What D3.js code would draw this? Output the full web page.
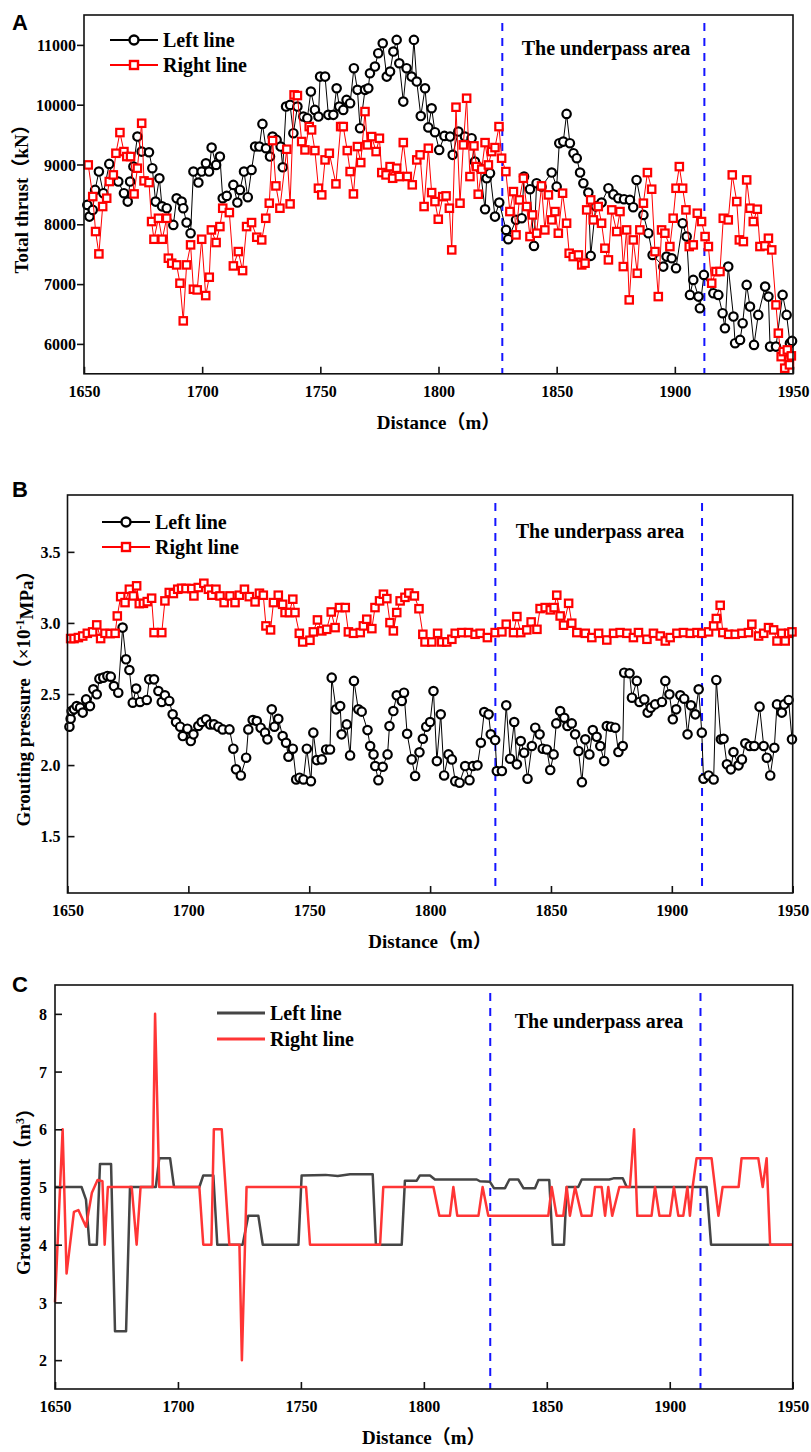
<!DOCTYPE html>
<html><head><meta charset="utf-8">
<script src="https://cdn.jsdelivr.net/npm/d3@7"></script>
<style>
body{margin:0;background:#fff}
svg text{font-family:"Liberation Serif","Times New Roman","Noto Sans CJK SC",serif;font-weight:bold;fill:#000}
</style>
</head><body>
<svg id="chart" width="811" height="1452"></svg>
<script>
// ---------------- data ----------------
const distanceTicks = [1650, 1700, 1750, 1800, 1850, 1900, 1950];
const underpassBounds = [1827, 1912.5];
const thrustTicks = [6000, 7000, 8000, 9000, 10000, 11000];
const pressureTicks = [1.5, 2.0, 2.5, 3.0, 3.5];
const groutTicks = [2, 3, 4, 5, 6, 7, 8];
const seriesNames = ["Left line", "Right line"];
const panelLetters = ["A", "B", "C"];
const underpassLabel = "The underpass area";

// Total thrust (kN) — [distance m, value]
const thrustLeft = [[1651.4,8324],[1652.3,8129],[1653.7,8241],[1654.7,8575],[1656.3,8882],[1658.2,8520],[1660.7,9010],[1662.4,8742],[1664.5,8715],[1666.9,8520],[1668.5,8380],[1669.5,8715],[1670.9,8965],[1672.6,9467],[1674.4,9216],[1677.5,9205],[1678.9,8938],[1680.3,8380],[1681.9,8770],[1683,8300],[1685,8269],[1687.8,7990],[1689.2,8436],[1691.3,8380],[1692,8269],[1693.4,8029],[1695.1,7851],[1696.3,8882],[1698.4,8698],[1699.8,8882],[1701.6,9021],[1702.9,8882],[1704,9283],[1705.9,8993],[1707.5,9133],[1708.7,8436],[1710.4,8475],[1713.2,8659],[1714.9,8364],[1716,8575],[1717.7,8882],[1719.3,8453],[1720.9,8910],[1722.4,9300],[1724.2,9300],[1725.5,9679],[1727,9272],[1728.7,9133],[1729.8,9467],[1731.5,9411],[1733.2,9300],[1734.1,8954],[1735.5,9969],[1737.2,9997],[1738.6,9523],[1740.3,9969],[1742.8,9802],[1744.5,9774],[1746,10220],[1747.7,9913],[1749.2,9802],[1749.9,10470],[1752,10470],[1753.4,9830],[1755.5,9830],[1756.9,10275],[1758,9969],[1759.7,9913],[1761.1,10080],[1762.6,10025],[1764.2,10610],[1765.7,10248],[1766.8,9607],[1768.9,10248],[1770.3,10275],[1771,10526],[1773.1,10638],[1774.5,10861],[1776.4,11028],[1778.1,10470],[1779.5,10554],[1780.9,10889],[1782.3,11084],[1783.4,10693],[1785.1,10052],[1786.5,10610],[1788.6,10470],[1789.6,11084],[1790.8,10387],[1792.5,9810],[1794.3,10275],[1795.7,9620],[1797.1,9941],[1798.5,9540],[1800.3,9244],[1802.5,9478],[1804.9,9467],[1806,9161],[1808.4,9551],[1811.2,9467],[1814,9440],[1815.4,9049],[1817.6,8938],[1819.7,8252],[1820.4,8770],[1821.8,8855],[1823.9,8129],[1825.7,8363],[1828.6,7906],[1829.5,7751],[1832.8,8074],[1835.2,8102],[1836.2,8798],[1838.7,8587],[1840.4,7639],[1841.5,8687],[1843.6,8630],[1847.9,8865],[1850,8630],[1851.1,9356],[1852.8,9383],[1854.2,9846],[1855.6,9356],[1857.1,9189],[1858.5,9105],[1859.9,8865],[1861.3,8687],[1863.4,8531],[1864.4,7472],[1866.5,8300],[1869,8363],[1871.9,8604],[1874,8500],[1876.1,8436],[1878.5,8420],[1881,8408],[1882.4,8286],[1883.8,8742],[1886.7,8157],[1888.8,7851],[1890.6,7488],[1895.1,7293],[1896.5,7460],[1898.7,7432],[1900.5,7266],[1903.3,8018],[1905,7795],[1906.4,6819],[1907.8,7070],[1910,6791],[1910.6,6597],[1912.3,7154],[1916.3,6848],[1918.4,6819],[1920.2,6513],[1921.2,6262],[1922.6,7293],[1924.8,6457],[1925.5,6012],[1927.6,6067],[1928.7,6346],[1930.4,6987],[1931.8,6624],[1933.5,5983],[1935.3,6485],[1938.2,6958],[1939.6,6791],[1940.3,5955],[1942.8,5955],[1945.6,6819],[1947.3,6485],[1948.7,6012],[1949.6,6050]];
const thrustRight = [[1651.8,8993],[1653.7,8464],[1654.9,7879],[1656.3,7505],[1657.9,8297],[1659.6,8436],[1660.7,8715],[1662.4,8826],[1663.5,9188],[1665.2,9534],[1666.9,9216],[1668.1,9133],[1669.7,9133],[1671.2,8508],[1672.6,8938],[1674.4,9690],[1675.4,8726],[1677.5,8698],[1678.6,8046],[1679.6,7750],[1681.5,8101],[1683.1,7750],[1685,8101],[1685.7,7433],[1687.1,7349],[1689.2,7321],[1690.6,7015],[1692,6385],[1693.4,7321],[1695.1,7656],[1696.3,6914],[1697.9,6903],[1699.8,7750],[1701.5,6808],[1703,7115],[1703.9,7906],[1705.9,7695],[1707.5,7962],[1708.7,8269],[1711.5,8196],[1713.2,7304],[1715.3,7544],[1717.1,7226],[1718.8,7962],[1720.9,8029],[1723.1,7784],[1725.2,7739],[1726.9,8101],[1728.4,8353],[1729.8,9400],[1731.2,8642],[1732.9,8269],[1735.8,9255],[1737.2,8341],[1738.9,10164],[1740.3,10153],[1742.1,9384],[1743.5,9244],[1745.3,9634],[1746.3,9579],[1747.7,9233],[1749.2,8603],[1750.6,8492],[1752,9077],[1753.8,9188],[1756.6,8676],[1758.6,9634],[1759.7,9634],[1761.4,9233],[1762.6,8882],[1764,8508],[1765.7,9300],[1767.1,9032],[1768.9,9885],[1769.9,9328],[1771.7,9467],[1773.6,9216],[1775,9439],[1776,8865],[1777.8,8826],[1779.5,8965],[1780.6,8770],[1782.3,8938],[1783.4,8798],[1785.1,9367],[1786.8,8800],[1788.9,8660],[1790.8,9077],[1792.2,9161],[1793.9,8297],[1795.7,9272],[1797.1,8530],[1798.5,8380],[1799.9,8085],[1801.8,8463],[1803.2,8475],[1804.6,8269],[1805.6,7572],[1807.4,9958],[1809.1,8353],[1810.5,9328],[1811.9,10108],[1813.3,8798],[1815,9311],[1816.1,8965],[1816.8,8503],[1818.3,8921],[1819.7,9366],[1821.1,8993],[1822.5,9216],[1823.9,9283],[1825.6,9634],[1826.7,9105],[1828.5,8882],[1830.2,8213],[1831.7,8547],[1832.8,7823],[1834.2,8408],[1835.9,8770],[1837.3,8297],[1838.7,7795],[1839.8,8157],[1841.5,7851],[1843.6,8642],[1845,7906],[1846.5,8492],[1847.9,8074],[1849.3,8213],[1850.7,7851],[1852.5,8520],[1854.2,8018],[1855.3,7516],[1857,7460],[1859.2,7488],[1860.6,7321],[1862,7349],[1862.7,8241],[1864.4,8408],[1865.5,8074],[1867.6,8297],[1869,8018],[1870.4,7600],[1871.9,7405],[1873.3,8241],[1875.4,7879],[1876.8,8213],[1878.2,7293],[1879.6,7906],[1880.7,6736],[1882.4,7739],[1884.1,7181],[1885.2,7906],[1886.7,8353],[1888.4,8865],[1890.2,8587],[1891.6,7544],[1893,6791],[1894.4,7906],[1895.8,7851],[1897.9,7628],[1899.3,8102],[1900.5,8603],[1901.9,8965],[1903.3,8603],[1904.7,8241],[1906.1,7628],[1907.8,7656],[1909.5,8185],[1911.3,8046],[1912.8,7795],[1914.2,7628],[1915.6,7015],[1917.4,7210],[1919.1,7210],[1920.5,8101],[1922.6,8074],[1924.3,8826],[1926.2,8380],[1927.3,7739],[1929,7711],[1930.4,8742],[1931.8,8269],[1933.2,8046],[1934.9,8252],[1936,7628],[1938.1,7639],[1939.6,7767],[1941,7572],[1942.8,6652],[1943.8,6179],[1945,5787],[1945.9,5871],[1946.5,5594],[1947.6,5900],[1948.5,5650],[1949.3,5800]];

// Grouting pressure (x10^-1 MPa)
const pressureLeft = [[1650.8,2.27],[1651.3,2.326],[1651.7,2.38],[1652.7,2.392],[1653.8,2.415],[1655.2,2.404],[1656.3,2.369],[1657.7,2.462],[1659.3,2.415],[1660.7,2.533],[1662.1,2.498],[1663.2,2.608],[1664.8,2.615],[1666.5,2.627],[1667.9,2.622],[1669.2,2.556],[1671,2.509],[1672.8,2.967],[1674.2,2.744],[1675.6,2.669],[1677,2.439],[1678.4,2.538],[1680,2.444],[1682.8,2.458],[1683.8,2.603],[1685.8,2.603],[1687.6,2.521],[1689,2.444],[1690.3,2.491],[1692.1,2.451],[1693.5,2.357],[1694.9,2.303],[1696.6,2.27],[1697.7,2.204],[1699.6,2.256],[1701,2.169],[1702.1,2.216],[1704.1,2.275],[1705.5,2.303],[1707.3,2.322],[1709,2.286],[1710.6,2.286],[1712.4,2.27],[1714.2,2.251],[1717,2.251],[1718.6,2.115],[1719.7,1.97],[1721.7,1.927],[1723.9,2.052],[1724.8,2.251],[1726.6,2.317],[1728.3,2.31],[1729.9,2.263],[1731.7,2.228],[1732.7,2.181],[1734.5,2.392],[1735.6,2.27],[1737.2,2.326],[1739,2.204],[1740.4,2.157],[1741.4,2.059],[1743.2,2.115],[1744.6,1.899],[1746,1.911],[1747.6,1.899],[1749,2.115],[1750.7,1.887],[1751.7,2.228],[1753.1,2.035],[1755.2,2.04],[1757,2.11],[1758.6,2.11],[1759.3,2.615],[1761.1,2.392],[1762.8,2.415],[1763.4,2.216],[1765.5,2.286],[1766.9,2.068],[1768.5,2.592],[1770.3,2.392],[1771.7,2.376],[1774.1,2.246],[1775.2,2.134],[1776.6,2.075],[1777.3,1.993],[1778.6,1.894],[1780.4,1.988],[1782.4,2.075],[1783.2,2.275],[1784.8,2.38],[1786.2,2.491],[1788.3,2.451],[1789.2,2.509],[1790.5,2.22],[1792.4,2.04],[1793.8,1.923],[1795.6,2.09],[1797,2.185],[1798.4,2.27],[1800,2.303],[1801.4,2.521],[1802.8,2.028],[1804.4,2.357],[1805.8,1.927],[1807.6,2.075],[1809,2.04],[1810.4,1.887],[1812.2,1.876],[1814.5,1.993],[1816.3,1.894],[1817.7,1.993],[1819.6,1.998],[1821,2.157],[1822.4,2.373],[1824.2,2.357],[1825.1,2.216],[1826.9,2.176],[1827.6,1.958],[1829.7,1.958],[1831.5,2.42],[1833.1,2.045],[1834.8,2.303],[1835.9,2.005],[1837.5,2.169],[1838.9,2.087],[1840.3,1.904],[1842.1,2.134],[1843.5,2.263],[1845.3,2.216],[1846.6,2.115],[1848.3,2.11],[1849.7,1.965],[1851.1,2.075],[1852.2,2.293],[1853.8,2.38],[1855.5,2.333],[1856.8,2.275],[1858.6,2.293],[1860,2.216],[1861.4,2.099],[1862.8,1.88],[1864.2,2.181],[1865.9,2.075],[1867.3,2.246],[1868.9,2.199],[1870.4,2.134],[1872,2.028],[1873.1,2.275],[1874.8,2.27],[1876.6,2.263],[1877.9,2.092],[1879.7,2.134],[1880.3,2.65],[1882.5,2.646],[1883.5,2.474],[1885.5,2.592],[1886.6,2.444],[1888.6,2.462],[1890,2.369],[1891.3,2.404],[1893.1,2.427],[1895.9,2.444],[1897.3,2.592],[1899,2.498],[1900.4,2.322],[1901.8,2.392],[1903.5,2.491],[1905.1,2.467],[1906.5,2.216],[1907.9,2.42],[1909.7,2.357],[1911.1,2.533],[1912.4,2.228],[1913.1,1.904],[1915.2,1.927],[1917.3,1.899],[1918.4,2.599],[1920.3,2.181],[1921.4,2.185],[1922.8,2.005],[1924.4,1.97],[1925.5,2.092],[1927.6,1.998],[1929,2.04],[1930.4,2.153],[1932.2,2.134],[1934.1,2.134],[1936.3,2.411],[1938,2.134],[1939.3,2.052],[1940.7,1.927],[1942.4,2.122],[1943.5,2.427],[1945.5,2.369],[1946.5,2.427],[1948.3,2.458],[1949.7,2.181]];
const pressureRight = [[1651.3,2.89],[1652.7,2.89],[1654.5,2.897],[1656.3,2.908],[1658.2,2.927],[1660.4,2.937],[1662.1,2.986],[1663.7,2.89],[1665.5,2.927],[1667.6,2.925],[1669.7,2.927],[1670.6,3.049],[1672,3.185],[1673.8,3.143],[1675.6,3.237],[1677.2,3.19],[1678.6,3.261],[1679.7,3.136],[1681.4,3.138],[1683,3.15],[1684.8,3.174],[1685.8,2.932],[1689,2.932],[1690.3,3.155],[1692.1,3.214],[1693.8,3.207],[1695.6,3.237],[1697.2,3.244],[1699,3.242],[1701.4,3.242],[1702.3,3.19],[1704.1,3.249],[1706.4,3.279],[1708.3,3.237],[1709.7,3.195],[1711.4,3.237],[1713.1,3.19],[1714.8,3.143],[1717.2,3.19],[1719.3,3.143],[1721.1,3.195],[1723.2,3.237],[1725.2,3.185],[1727.6,3.148],[1729.4,3.209],[1731,3.195],[1732.1,2.979],[1734,2.951],[1735.2,3.143],[1737.2,3.195],[1739,3.131],[1740,3.073],[1741.8,3.073],[1743.2,3.167],[1744.1,3.073],[1745.9,2.927],[1747.3,2.866],[1750.3,2.878],[1751.7,2.937],[1753.4,3.021],[1755.2,2.944],[1757.2,2.955],[1759.1,3.077],[1760.7,2.967],[1762.5,3.108],[1764.9,3.108],[1766.2,2.937],[1768.3,2.927],[1771.1,2.932],[1772.4,2.979],[1773.8,3.026],[1775.9,2.96],[1777.2,3.108],[1779.1,3.155],[1780.7,3.202],[1782.1,3.171],[1783.4,3.002],[1784.8,2.944],[1786.2,3.073],[1787.6,3.155],[1789.6,3.18],[1791.2,3.21],[1793.5,3.19],[1795.4,3.1],[1797,2.92],[1797.9,2.866],[1800.7,2.866],[1803.1,2.927],[1804.8,2.866],[1806.9,2.866],[1809,2.885],[1810.4,2.927],[1813.1,2.932],[1815.9,2.932],[1818.6,2.92],[1820.7,2.927],[1823.7,2.897],[1826.9,2.932],[1829.7,2.937],[1831.5,2.991],[1834.5,2.932],[1835.9,3.045],[1837.5,2.932],[1840,2.951],[1841.8,3.007],[1844.2,2.955],[1845.5,3.101],[1847.6,3.108],[1849.7,3.092],[1851.3,3.108],[1852.4,3.195],[1853.8,3.049],[1855.2,2.984],[1857.3,3.138],[1858.6,2.998],[1860.7,2.932],[1864.2,2.927],[1866.9,2.897],[1869.7,2.927],[1873.1,2.88],[1875.9,2.927],[1878.6,2.932],[1881.4,2.927],[1884.1,2.897],[1886.2,2.932],[1889.7,2.885],[1892.4,2.927],[1895.2,2.908],[1897.3,2.873],[1899.3,2.897],[1902.1,2.927],[1904.8,2.932],[1907.6,2.927],[1910.4,2.932],[1912.4,2.927],[1915.2,2.937],[1917.3,2.979],[1918.4,3.031],[1920,3.124],[1921.1,2.932],[1923.5,2.92],[1926.2,2.92],[1929,2.927],[1931.7,2.932],[1933.1,2.991],[1935.9,2.908],[1938,2.927],[1940,2.967],[1942.1,2.951],[1943.5,2.873],[1945.5,2.927],[1946.9,2.873],[1948.3,2.927],[1949.7,2.937]];

// Grout amount (m3)
const groutLeft = [[1650,5],[1660.8,5],[1662.6,4.78],[1664,4],[1667,4],[1668.3,5.4],[1672.8,5.4],[1674.4,2.5],[1678.9,2.5],[1680.5,5],[1691,5],[1692.4,5.5],[1696.8,5.5],[1698.4,5],[1708.7,5],[1710.3,5.2],[1714.4,5.2],[1716,4],[1726.3,4],[1728.6,4.5],[1732.7,4.5],[1734.5,4],[1749,4],[1750.3,5.2],[1760,5.21],[1765,5.19],[1770,5.22],[1779.2,5.22],[1780.5,4],[1791,4],[1792.3,5.11],[1797.1,5.11],[1798.4,5.2],[1802.5,5.2],[1804.5,5.13],[1821.5,5.13],[1822.8,5.1],[1826.9,5.09],[1828.5,4.98],[1833,4.98],[1834.8,5.13],[1838.4,5.13],[1840.5,4.98],[1845.2,4.98],[1846.6,5.12],[1851,5.12],[1852.4,4],[1857,4],[1858.1,5],[1862.8,5],[1864.2,5.13],[1875.4,5.13],[1877.1,5.15],[1880.9,5.15],[1882.5,5],[1915,5],[1916.8,4],[1950,4]];
const groutRight = [[1650,3],[1653.1,6],[1654.7,3.5],[1657.7,4.57],[1659.5,4.6],[1662.6,4.31],[1665,4.9],[1667.3,5.12],[1669.3,5.1],[1670.2,4],[1671.5,5],[1681.2,5],[1683.2,4],[1684.8,5],[1689.7,5],[1690.7,8],[1692.4,5],[1708.7,5],[1710.3,4],[1713.6,4],[1714.6,6],[1717.8,6],[1720.9,4],[1725,4],[1726,2],[1727.9,5],[1752.1,5],[1753.7,4],[1782.2,4],[1783.5,5],[1803.9,5],[1806.3,4.5],[1810.6,4.5],[1812,5],[1813.6,4.5],[1822.2,4.5],[1823.9,5],[1826.2,4.5],[1850.6,4.5],[1852,5],[1854,4.5],[1856.7,4.5],[1858.1,5],[1859.4,4.5],[1861.5,5],[1864.2,4.5],[1868.2,4.5],[1869.6,5],[1872.3,5],[1873.7,4.5],[1875,5],[1876.6,4.5],[1879.5,5],[1883.8,5],[1885.5,6],[1886.8,4.5],[1892.6,4.5],[1894,5],[1895.8,4.5],[1900.1,4.5],[1901.7,5],[1903.5,4.5],[1905.5,4.5],[1907.2,5],[1908.2,4.5],[1909.3,5],[1910.9,5.5],[1917,5.5],[1919.8,4.5],[1921.5,5],[1928,5],[1929.2,5.5],[1936,5.5],[1937.8,5],[1939.4,5.5],[1940.8,4],[1950,4]];

// ---------------- drawing ----------------
const svg = d3.select("#chart");
const BLUE = "#1414ff";

function panel(cfg) {
  const x = d3.scaleLinear().domain([1650, 1950]).range([cfg.left, cfg.right]);
  const y = d3.scaleLinear().domain(cfg.yDomain).range([cfg.bottom, cfg.top]);
  const g = svg.append("g");

  underpassBounds.forEach(d => {
    g.append("line").attr("x1", x(d)).attr("x2", x(d))
      .attr("y1", cfg.top + 8).attr("y2", cfg.bottom)
      .attr("stroke", BLUE).attr("stroke-width", 2).attr("stroke-dasharray", "8,7");
  });

  cfg.series.forEach(s => {
    const line = d3.line().x(d => x(d[0])).y(d => y(d[1]));
    g.append("path").datum(s.data).attr("d", line)
      .attr("fill", "none").attr("stroke", s.color).attr("stroke-width", s.lw)
      .attr("stroke-linejoin", "round");
    if (s.marker === "circle") {
      g.selectAll(null).data(s.data).enter().append("circle")
        .attr("cx", d => x(d[0])).attr("cy", d => y(d[1])).attr("r", 4.2)
        .attr("fill", "#fff").attr("stroke", s.color).attr("stroke-width", 2.2);
    } else if (s.marker === "square") {
      g.selectAll(null).data(s.data).enter().append("rect")
        .attr("x", d => x(d[0]) - 3.7).attr("y", d => y(d[1]) - 3.7)
        .attr("width", 7.4).attr("height", 7.4)
        .attr("fill", "#fff").attr("stroke", s.color).attr("stroke-width", 2.2);
    }
  });

  g.append("rect").attr("x", cfg.left).attr("y", cfg.top)
    .attr("width", cfg.right - cfg.left).attr("height", cfg.bottom - cfg.top)
    .attr("fill", "none").attr("stroke", "#111").attr("stroke-width", 1.6);

  const xa = g.append("g").attr("transform", `translate(0,${cfg.bottom})`)
    .call(d3.axisBottom(x).tickValues(distanceTicks).tickSizeInner(-7).tickSizeOuter(0).tickPadding(0).tickFormat(d3.format("d")));
  xa.select(".domain").remove();
  xa.selectAll("line").attr("stroke", "#111").attr("stroke-width", 1.6);
  xa.selectAll("text").attr("y", 23).attr("dy", null).attr("font-size", 16);

  const ya = g.append("g").attr("transform", `translate(${cfg.left},0)`)
    .call(d3.axisLeft(y).tickValues(cfg.yTicks).tickSizeInner(cfg.yTickOut ? 7 : -7).tickSizeOuter(0).tickPadding(0).tickFormat(cfg.yFormat));
  ya.select(".domain").remove();
  ya.selectAll("line").attr("stroke", "#111").attr("stroke-width", 1.6);
  ya.selectAll("text").attr("x", -cfg.yLabelGap).attr("dy", "0.35em").attr("font-size", 16);

  g.append("text").attr("x", (cfg.left + cfg.right) / 2).attr("y", cfg.bottom + 55)
    .attr("text-anchor", "middle").attr("font-size", 19).text("Distance（m）");
  const yt = g.append("text")
    .attr("transform", `translate(${cfg.yTitleX},${(cfg.top + cfg.bottom) / 2}) rotate(-90)`)
    .attr("text-anchor", "middle").attr("dy", "0.35em").attr("font-size", 19);
  cfg.yTitle(yt);

  svg.append("text").attr("x", 12).attr("y", cfg.letterY)
    .style("font-family", "'Liberation Sans', Arial, sans-serif").attr("font-size", 22)
    .text(cfg.letter);

  g.append("text").attr("x", cfg.labelX).attr("y", cfg.labelY).attr("dy", "0.35em")
    .attr("text-anchor", "middle").attr("font-size", 20).text(underpassLabel);

  cfg.series.forEach((s, i) => {
    const ly = cfg.legY + i * cfg.legDy;
    g.append("line").attr("x1", cfg.legX).attr("x2", cfg.legX + 48)
      .attr("y1", ly).attr("y2", ly).attr("stroke", s.color).attr("stroke-width", s.marker ? 2 : 3);
    if (s.marker === "circle") {
      g.append("circle").attr("cx", cfg.legX + 24).attr("cy", ly).attr("r", 4.5)
        .attr("fill", "#fff").attr("stroke", s.color).attr("stroke-width", 2.4);
    } else if (s.marker === "square") {
      g.append("rect").attr("x", cfg.legX + 24 - 4).attr("y", ly - 4).attr("width", 8).attr("height", 8)
        .attr("fill", "#fff").attr("stroke", s.color).attr("stroke-width", 2.4);
    }
    g.append("text").attr("x", cfg.legX + 53).attr("y", ly).attr("dy", "0.35em")
      .attr("font-size", 20).text(s.name);
  });
}

panel({
  letter: panelLetters[0], letterY: 30,
  left: 84, right: 793, top: 15, bottom: 373.8,
  yDomain: [5500, 11500], yTicks: thrustTicks, yFormat: d3.format("d"), yTickOut: true, yLabelGap: 8,
  yTitleX: 21, yTitle: t => t.text("Total thrust（kN）"),
  labelX: 606, labelY: 48,
  legX: 110, legY: 40, legDy: 25,
  series: [
    {name: seriesNames[0], data: thrustLeft, color: "#000", lw: 1, marker: "circle"},
    {name: seriesNames[1], data: thrustRight, color: "#ff0000", lw: 1, marker: "square"}
  ]
});

panel({
  letter: panelLetters[1], letterY: 497,
  left: 67.5, right: 792.7, top: 495, bottom: 893,
  yDomain: [1.1, 3.9], yTicks: pressureTicks, yFormat: d3.format(".1f"), yTickOut: false, yLabelGap: 7,
  yTitleX: 23, yTitle: t => {
    t.append("tspan").text("Grouting pressure（×10");
    t.append("tspan").attr("font-size", 12).attr("dy", "-0.5em").text("-1");
    t.append("tspan").attr("dy", "0.5em").text("MPa）");
  },
  labelX: 600, labelY: 531,
  legX: 102, legY: 522, legDy: 25,
  series: [
    {name: seriesNames[0], data: pressureLeft, color: "#000", lw: 1, marker: "circle"},
    {name: seriesNames[1], data: pressureRight, color: "#ff0000", lw: 1, marker: "square"}
  ]
});

panel({
  letter: panelLetters[2], letterY: 992,
  left: 55, right: 792.7, top: 985, bottom: 1389,
  yDomain: [1.5, 8.5], yTicks: groutTicks, yFormat: d3.format("d"), yTickOut: false, yLabelGap: 8,
  yTitleX: 23, yTitle: t => {
    t.append("tspan").text("Grout amount（m");
    t.append("tspan").attr("font-size", 12).attr("dy", "-0.5em").text("3");
    t.append("tspan").attr("dy", "0.5em").text("）");
  },
  labelX: 599, labelY: 1021,
  legX: 217, legY: 1013, legDy: 26,
  series: [
    {name: seriesNames[0], data: groutLeft, color: "#454545", lw: 2.5, marker: null},
    {name: seriesNames[1], data: groutRight, color: "#ff3535", lw: 2.5, marker: null}
  ]
});
</script>
</body></html>
